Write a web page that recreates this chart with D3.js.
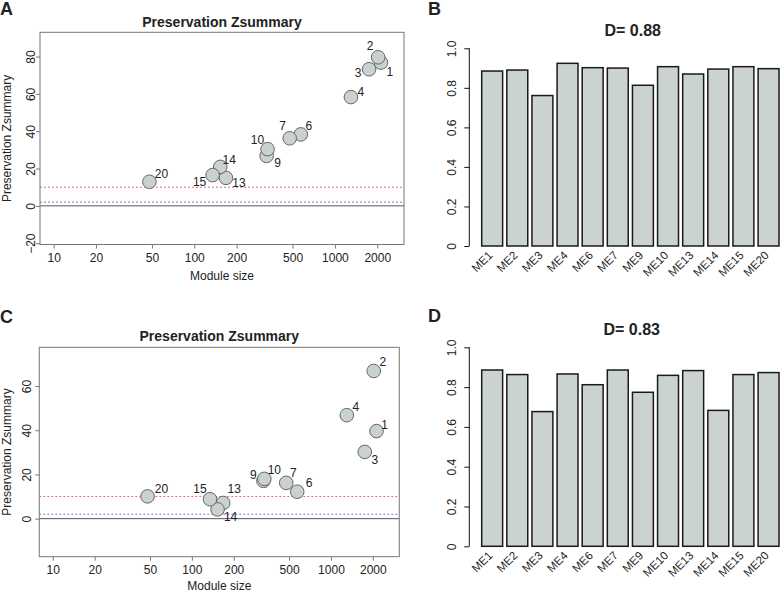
<!DOCTYPE html>
<html><head><meta charset="utf-8">
<script src="https://cdn.jsdelivr.net/npm/d3@7"></script>
<style>
body{margin:0;background:#fff;}
text{font-family:Arial,"Liberation Sans",Helvetica,sans-serif;fill:#222;}
</style>
</head><body>
<svg id="chart" width="782" height="592"></svg>
<script>
// ---------------- data ----------------
const moduleLabels = ["1","2","3","4","6","7","9","10","13","14","15","20"];
const moduleSizes  = [2125, 2030, 1750, 1300, 572, 477, 327, 332, 168, 153, 135, 48];
const zsummaryA    = [76.8, 79.6, 73.2, 58.3, 38.3, 36.2, 26.8, 30.4, 15.0, 20.9, 16.5, 12.9];
const zsummaryC    = [39.6, 66.8, 30.2, 46.8, 12.2, 16.2, 17.1, 18.0, 7.1, 4.2, 8.8, 10.1];
const xTickValues  = [10, 20, 50, 100, 200, 500, 1000, 2000];
const yTicksA      = [-20, 0, 20, 40, 60, 80];
const yTicksC      = [0, 20, 40, 60];
const thresholdHigh = 10;
const thresholdLow  = 2;
const scatterTitle = "Preservation Zsummary";
const xAxisTitle   = "Module size";
const yAxisTitle   = "Preservation Zsummary";

const barCategories = ["ME1","ME2","ME3","ME4","ME6","ME7","ME9","ME10","ME13","ME14","ME15","ME20"];
const densityB = [0.885, 0.890, 0.761, 0.924, 0.902, 0.900, 0.813, 0.907, 0.870, 0.895, 0.907, 0.897];
const densityD = [0.886, 0.863, 0.677, 0.866, 0.812, 0.886, 0.774, 0.859, 0.883, 0.683, 0.863, 0.873];
const barTicks = [0, 0.2, 0.4, 0.6, 0.8, 1.0];
const titleB = "D= 0.88";
const titleD = "D= 0.83";

// ---------------- layout (label nudges in px) ----------------
const nudgeA = {"1":[9,9],"2":[-8,-12],"3":[-11,4],"4":[10,-5],"6":[8,-9],"7":[-7,-13],
  "9":[11,7],"10":[-10,-9],"13":[13,5],"14":[9,-7],"15":[-13,7],"20":[12,-8]};
const nudgeC = {"1":[8,-6],"2":[9,-9],"3":[10,8],"4":[9,-8],"6":[12,-9],"7":[7,-10],
  "9":[-10,-6],"10":[10,-9],"13":[11,-14],"14":[13,7],"15":[-10,-10],"20":[14,-8]};

const svg = d3.select("#chart");
const POINT_FILL = "#c9d2cf", BAR_FILL = "#cbd3d1";

function scatterPanel(o) {
  const g = svg.append("g");
  const x = d3.scaleLog().domain([8, 3100]).range([o.x0, o.x1]);
  const y = d3.scaleLinear().domain(o.yDom).range([o.y1, o.y0]);

  // threshold lines
  g.append("line").attr("x1", o.x0).attr("x2", o.x1)
    .attr("y1", y(thresholdHigh)).attr("y2", y(thresholdHigh))
    .attr("stroke", "#e0707c").attr("stroke-width", 1).attr("stroke-dasharray", "2,2");
  g.append("line").attr("x1", o.x0).attr("x2", o.x1)
    .attr("y1", y(thresholdLow)).attr("y2", y(thresholdLow))
    .attr("stroke", "#7878d4").attr("stroke-width", 1).attr("stroke-dasharray", "2,2");
  g.append("line").attr("x1", o.x0).attr("x2", o.x1)
    .attr("y1", y(0)).attr("y2", y(0))
    .attr("stroke", "#555").attr("stroke-width", 1);

  // box
  g.append("rect").attr("x", o.x0).attr("y", o.y0)
    .attr("width", o.x1 - o.x0).attr("height", o.y1 - o.y0)
    .attr("fill", "none").attr("stroke", "#777").attr("stroke-width", 1);

  const pts = moduleLabels.map((m, i) => ({m, s: moduleSizes[i], v: o.values[i]}));
  g.selectAll("circle.p").data(pts).enter().append("circle")
    .attr("cx", d => x(d.s)).attr("cy", d => y(d.v)).attr("r", 6.8)
    .attr("fill", POINT_FILL).attr("stroke", "#666").attr("stroke-width", 1);
  g.selectAll("text.lab").data(pts).enter().append("text")
    .attr("x", d => x(d.s) + o.nudge[d.m][0]).attr("y", d => y(d.v) + o.nudge[d.m][1])
    .attr("dy", "0.35em").attr("text-anchor", "middle")
    .attr("font-size", 12).attr("fill", "#111").text(d => d.m);

  // x axis
  const xa = g.append("g").attr("transform", `translate(0,${o.y1})`)
    .call(d3.axisBottom(x).tickValues(xTickValues).tickFormat(d3.format("d")).tickSize(4).tickPadding(5));
  xa.select(".domain").remove();
  xa.selectAll("line").attr("stroke", "#777");
  xa.selectAll("text").attr("font-size", 12).attr("fill", "#333")
    .style("font-family", "Arial,'Liberation Sans',sans-serif");

  // y axis
  const ya = g.append("g").attr("transform", `translate(${o.x0},0)`)
    .call(d3.axisLeft(y).tickValues(o.yTicks).tickFormat(d3.format("d")).tickSize(4));
  ya.select(".domain").remove();
  ya.selectAll("line").attr("stroke", "#777");
  ya.selectAll("text").attr("font-size", 12).attr("fill", "#333")
    .style("font-family", "Arial,'Liberation Sans',sans-serif")
    .attr("transform", "rotate(-90)").attr("x", 0).attr("dy", 0)
    .attr("y", -(o.x0 - o.yLabX)).attr("text-anchor", "middle")
    .text(d => d < 0 ? "\u2212" + Math.abs(d) : d);

  // titles
  g.append("text").attr("x", (o.x0 + o.x1) / 2).attr("y", o.titleY)
    .attr("text-anchor", "middle").attr("font-size", 14).attr("font-weight", "bold")
    .text(scatterTitle);
  g.append("text").attr("x", (o.x0 + o.x1) / 2).attr("y", o.xTitleY)
    .attr("text-anchor", "middle").attr("font-size", 12).attr("fill", "#333").text(xAxisTitle);
  g.append("text").attr("transform", `translate(11,${(o.y0 + o.y1) / 2}) rotate(-90)`)
    .attr("text-anchor", "middle").attr("font-size", 12).attr("fill", "#333").text(yAxisTitle);
  g.append("text").attr("x", 0).attr("y", o.letterY).attr("font-size", 18)
    .attr("font-weight", "bold").attr("fill", "#000").text(o.letter);
}

function barPanel(o) {
  const g = svg.append("g");
  const x = d3.scaleBand().domain(barCategories).range([481.7, 779]).paddingInner(1 / 6).paddingOuter(0);
  const y = d3.scaleLinear().domain([0, 1]).range([o.yZero, o.yOne]);
  const data = barCategories.map((c, i) => ({c, v: o.values[i]}));
  g.selectAll("rect").data(data).enter().append("rect")
    .attr("x", d => x(d.c)).attr("y", d => y(d.v))
    .attr("width", x.bandwidth()).attr("height", d => y(0) - y(d.v))
    .attr("fill", BAR_FILL).attr("stroke", "#1a1a1a").attr("stroke-width", 1.5);

  const ya = g.append("g").attr("transform", "translate(469.3,0)")
    .call(d3.axisLeft(y).tickValues(barTicks).tickFormat(d => d === 0 ? "0" : d3.format(".1f")(d)).tickSize(5));
  ya.select(".domain").attr("stroke", "#111").attr("d", `M0,${y(0)}V${y(1)}`);
  ya.selectAll("line").attr("stroke", "#111");
  ya.selectAll("text").attr("font-size", 12).attr("fill", "#333")
    .style("font-family", "Arial,'Liberation Sans',sans-serif")
    .attr("transform", "rotate(-90)").attr("x", 0).attr("dy", 0)
    .attr("y", -(469.3 - 456)).attr("text-anchor", "middle");

  g.selectAll("text.xl").data(data).enter().append("text")
    .attr("transform", d => `translate(${x(d.c) + x.bandwidth() / 2 + 1},${o.yZero + 10}) rotate(-45)`)
    .attr("text-anchor", "end").attr("font-size", 11.5).attr("fill", "#222").text(d => d.c);

  g.append("text").attr("x", o.titleX).attr("y", o.titleY).attr("text-anchor", "middle")
    .attr("font-size", 16).attr("font-weight", "bold").text(o.title);
  g.append("text").attr("x", 428).attr("y", o.letterY).attr("font-size", 18)
    .attr("font-weight", "bold").attr("fill", "#000").text(o.letter);
}

scatterPanel({x0: 40, x1: 404, y0: 32.3, y1: 244.5, yDom: [-20.7, 93.0], yTicks: yTicksA,
  values: zsummaryA, nudge: nudgeA, yLabX: 35, titleY: 27, xTitleY: 280, letter: "A", letterY: 15});
scatterPanel({x0: 39.3, x1: 399.3, y0: 347.3, y1: 556.7, yDom: [-17.2, 77.5], yTicks: yTicksC,
  values: zsummaryC, nudge: nudgeC, yLabX: 31, titleY: 341, xTitleY: 590, letter: "C", letterY: 323});
barPanel({values: densityB, yZero: 246, yOne: 48.3, title: titleB, titleX: 632.7, titleY: 36, letter: "B", letterY: 15});
barPanel({values: densityD, yZero: 546.3, yOne: 347.3, title: titleD, titleX: 631.7, titleY: 335, letter: "D", letterY: 322});
</script>
</body></html>
